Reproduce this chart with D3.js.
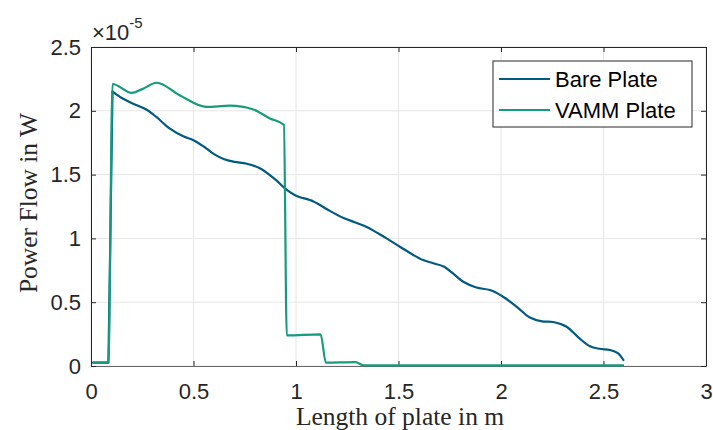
<!DOCTYPE html>
<html>
<head>
<meta charset="utf-8">
<script src="https://cdn.jsdelivr.net/npm/d3@7"></script>
<style>
  body { margin: 0; background: #fff; }
  svg { display: block; }
  .tick text { font-family: "Liberation Sans", Arial, sans-serif; font-size: 22px; fill: #262626; }
</style>
</head>
<body>
<div id="chart"></div>
<script>
// values in units of 1e-5 W
var bareX = [0.01, 0.085, 0.105, 0.15, 0.2, 0.27, 0.32, 0.385, 0.45, 0.5, 0.55, 0.6, 0.65, 0.7, 0.76, 0.824, 0.9, 0.955, 1.0, 1.085, 1.16, 1.232, 1.29, 1.345, 1.4, 1.442, 1.507, 1.572, 1.62, 1.67, 1.72, 1.77, 1.816, 1.88, 1.946, 2.01, 2.08, 2.141, 2.2, 2.255, 2.32, 2.38, 2.434, 2.48, 2.532, 2.57, 2.597];
var bareY = [0.026, 0.026, 2.15, 2.1, 2.06, 2.01, 1.95, 1.86, 1.80, 1.77, 1.72, 1.66, 1.62, 1.60, 1.585, 1.55, 1.46, 1.38, 1.335, 1.29, 1.22, 1.16, 1.125, 1.09, 1.04, 1.0, 0.935, 0.87, 0.83, 0.805, 0.78, 0.72, 0.66, 0.615, 0.595, 0.543, 0.46, 0.38, 0.35, 0.345, 0.308, 0.22, 0.155, 0.135, 0.125, 0.1, 0.047];

var vammX = [0.01, 0.085, 0.105, 0.198, 0.25, 0.32, 0.434, 0.564, 0.678, 0.792, 0.873, 0.941, 0.955, 1.12, 1.146, 1.29, 1.33, 2.6];
var vammY = [0.026, 0.026, 2.21, 2.14, 2.17, 2.22, 2.12, 2.03, 2.04, 2.01, 1.94, 1.89, 0.24, 0.248, 0.026, 0.03, 0.005, 0.005];

var xTicks = [0, 0.5, 1, 1.5, 2, 2.5, 3];
var yTicks = [0, 0.5, 1, 1.5, 2, 2.5];
var seriesNames = ["Bare Plate", "VAMM Plate"];
var seriesColors = ["#005a82", "#169b7d"];

// set the dimensions and margins of the graph
var W = 713, H = 430;
var margin = {top: 47, right: 7, bottom: 64, left: 91},
    width = W - margin.left - margin.right,
    height = H - margin.top - margin.bottom;

var x = d3.scaleLinear().domain([0, 3]).range([0, width]);
var y = d3.scaleLinear().domain([0, 2.5]).range([height, 0]);

var svg = d3.select("#chart").append("svg")
    .attr("width", W)
    .attr("height", H);
var g = svg.append("g")
    .attr("transform", "translate(" + margin.left + "," + margin.top + ")");

// grid
g.append("g").selectAll("line").data(xTicks).enter().append("line")
    .attr("x1", d => x(d)).attr("x2", d => x(d))
    .attr("y1", 0).attr("y2", height)
    .attr("stroke", "#e6e6e6").attr("stroke-width", 1);
g.append("g").selectAll("line").data(yTicks).enter().append("line")
    .attr("x1", 0).attr("x2", width)
    .attr("y1", d => y(d)).attr("y2", d => y(d))
    .attr("stroke", "#e6e6e6").attr("stroke-width", 1);

// axes (ticks inward)
var xAxis = g.append("g")
    .attr("transform", "translate(0," + height + ")")
    .call(d3.axisBottom(x).tickValues(xTicks).tickFormat(d3.format("")).tickSizeInner(-5).tickSizeOuter(0).tickPadding(17));
var yAxis = g.append("g")
    .call(d3.axisLeft(y).tickValues(yTicks).tickFormat(d3.format("")).tickSizeInner(-5).tickSizeOuter(0).tickPadding(10));
var xTop = g.append("g")
    .call(d3.axisTop(x).tickValues(xTicks).tickFormat("").tickSizeInner(-5).tickSizeOuter(0));
var yRight = g.append("g")
    .attr("transform", "translate(" + width + ",0)")
    .call(d3.axisRight(y).tickValues(yTicks).tickFormat("").tickSizeInner(-5).tickSizeOuter(0));
g.selectAll(".domain, .tick line").attr("stroke", "#262626");
xAxis.select(".domain").attr("stroke", "#666");

// lines
var linear = d3.line()
    .x(d => x(d[0]))
    .y(d => y(d[1]));
var smooth = d3.line()
    .x(d => x(d[0]))
    .y(d => y(d[1]))
    .curve(d3.curveCatmullRom.alpha(0.5));
var vammLine = d3.line()
    .x(d => x(d[0]))
    .y(d => y(d[1]))
    .curve(d3.curveMonotoneX);

var bare = bareX.map((v, i) => [v, bareY[i]]);
var vamm = vammX.map((v, i) => [v, vammY[i]]);

// bare plate: straight rise at the start, smooth after the peak
g.append("path").datum(bare.slice(0, 3))
    .attr("fill", "none").attr("stroke", seriesColors[0]).attr("stroke-width", 2.2)
    .attr("stroke-linejoin", "round").attr("stroke-linecap", "round")
    .attr("d", linear);
g.append("path").datum(bare.slice(2))
    .attr("fill", "none").attr("stroke", seriesColors[0]).attr("stroke-width", 2.2)
    .attr("stroke-linecap", "round")
    .attr("d", smooth);
g.append("path").datum(vamm)
    .attr("fill", "none").attr("stroke", seriesColors[1]).attr("stroke-width", 2.2)
    .attr("d", vammLine);

// exponent label
var expo = svg.append("text")
    .attr("x", 92).attr("y", 40)
    .style("font-family", "Liberation Sans, Arial, sans-serif")
    .style("font-size", "22px").attr("fill", "#262626");
expo.append("tspan").text("\u00d710");
expo.append("tspan").attr("dy", -12).style("font-size", "15px").text("-5");

// axis titles
svg.append("text")
    .attr("x", 400).attr("y", 425)
    .attr("text-anchor", "middle")
    .style("font-family", "Liberation Serif, Times New Roman, serif")
    .style("font-size", "25.5px").attr("fill", "#262626")
    .text("Length of plate in m");
svg.append("text")
    .attr("transform", "translate(37,203) rotate(-90)")
    .attr("text-anchor", "middle")
    .style("font-family", "Liberation Serif, Times New Roman, serif")
    .style("font-size", "25.5px").attr("fill", "#262626")
    .text("Power Flow in W");

// legend
var leg = svg.append("g").attr("transform", "translate(493,61)");
leg.append("rect").attr("width", 199).attr("height", 66)
    .attr("fill", "#fff").attr("stroke", "#262626").attr("stroke-width", 1);
seriesNames.forEach(function(name, i) {
    var yy = 18 + i * 31;
    leg.append("line").attr("x1", 6).attr("x2", 57).attr("y1", yy).attr("y2", yy)
        .attr("stroke", seriesColors[i]).attr("stroke-width", 2.2);
    leg.append("text").attr("x", 62).attr("y", yy + 8)
        .style("font-family", "Liberation Sans, Arial, sans-serif")
        .style("font-size", "22px").attr("fill", "#000")
        .text(name);
});
</script>
</body>
</html>
